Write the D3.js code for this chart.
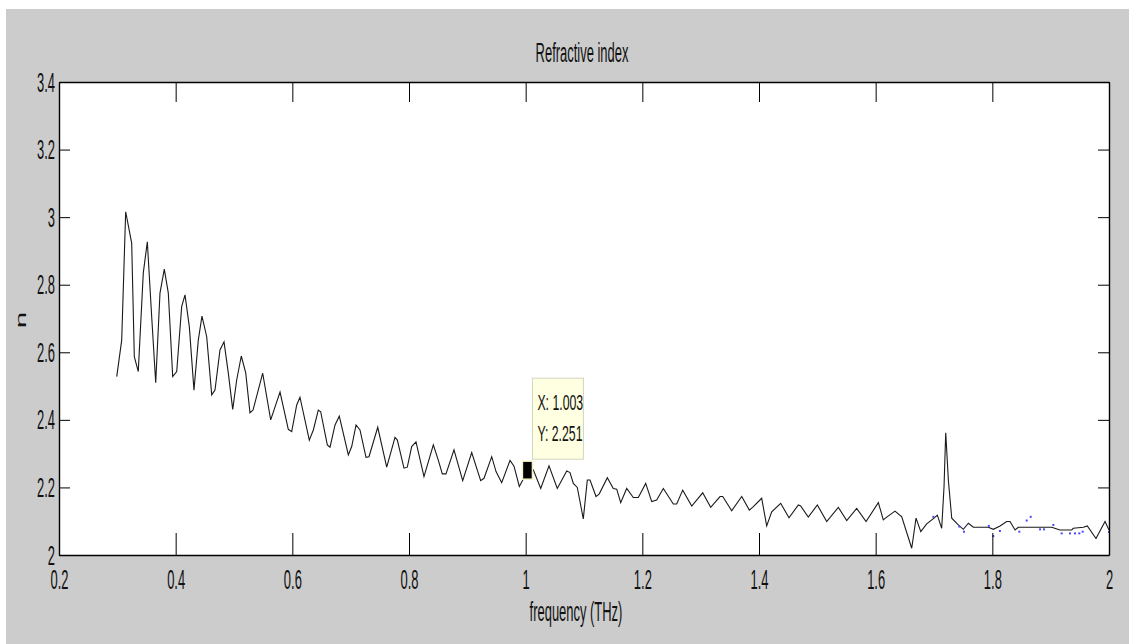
<!DOCTYPE html>
<html>
<head>
<meta charset="utf-8">
<script src="https://cdn.jsdelivr.net/npm/d3@7"></script>
<style>
  body { margin: 0; background: #fff; }
  text { font-family: "Liberation Sans", Arial, Helvetica, sans-serif; fill: #111; }
</style>
</head>
<body>
<svg id="chart" width="1129" height="644"></svg>
<script>
// Refractive index vs frequency
const freq = [0.299,0.3075,0.3143,0.3246,0.3291,0.3359,0.3445,0.3514,0.3589,0.3658,0.3731,0.3805,0.3874,0.3949,0.4018,0.4103,0.416,0.4234,0.4314,0.4388,
  0.4451,0.4532,0.4618,0.4674,0.476,0.4829,0.4902,0.4978,0.5046,0.5125,0.5201,0.5274,0.5326,0.5492,0.5629,0.5789,0.5931,0.5989,0.6075,0.6131,
  0.6291,0.636,0.6445,0.6486,0.66,0.6646,0.6732,0.6805,0.696,0.7018,0.7092,0.716,0.7263,0.7314,0.7464,0.7618,0.776,0.78,0.7914,0.7971,
  0.8046,0.812,0.8257,0.8417,0.8502,0.8571,0.8634,0.8771,0.8921,0.9075,0.9229,0.9286,0.9418,0.9492,0.9589,0.9732,0.98,0.9891,0.9949,1.003,
  1.0131,1.0258,1.04,1.0542,1.0704,1.076,1.0817,1.0885,1.0988,1.1057,1.1103,1.1206,1.1262,1.14,1.1502,1.1561,1.1629,1.1732,1.1845,1.1931,
  1.2058,1.2161,1.2246,1.236,1.2531,1.2589,1.2692,1.2847,1.3035,1.3172,1.3332,1.3378,1.3532,1.3704,1.3834,1.3903,1.4046,1.4132,1.4218,1.4372,
  1.4514,1.4674,1.4715,1.4845,1.5,1.5161,1.536,1.5504,1.5675,1.5835,1.6046,1.6131,1.6189,1.6332,1.6447,1.6618,1.6692,1.6774,1.6875,1.7,
  1.7057,1.7132,1.7172,1.7201,1.7246,1.7304,1.7417,1.7503,1.7589,1.7675,1.7931,1.8017,1.8132,1.8246,1.8303,1.8389,1.8445,1.9018,1.916,1.9361,
  1.9388,1.956,1.9628,1.9777,1.9932,2.0];
const nIndex = [2.528,2.636,3.016,2.923,2.587,2.543,2.835,2.927,2.705,2.510,2.775,2.846,2.775,2.528,2.543,2.735,2.770,2.676,2.488,2.636,
  2.707,2.646,2.474,2.488,2.607,2.631,2.539,2.431,2.518,2.589,2.539,2.421,2.429,2.538,2.400,2.482,2.372,2.365,2.444,2.467,
  2.340,2.370,2.429,2.424,2.326,2.319,2.385,2.411,2.296,2.321,2.385,2.370,2.289,2.291,2.378,2.260,2.348,2.340,2.257,2.260,
  2.321,2.335,2.232,2.326,2.281,2.240,2.240,2.311,2.220,2.303,2.220,2.227,2.291,2.247,2.214,2.280,2.263,2.203,2.221,2.251,
  2.252,2.197,2.264,2.197,2.249,2.244,2.212,2.200,2.107,2.222,2.222,2.173,2.181,2.229,2.197,2.195,2.155,2.197,2.170,2.170,
  2.212,2.158,2.163,2.197,2.151,2.151,2.192,2.145,2.184,2.141,2.173,2.173,2.131,2.173,2.133,2.143,2.168,2.086,2.128,2.153,
  2.110,2.148,2.145,2.112,2.148,2.099,2.141,2.102,2.138,2.099,2.155,2.104,2.112,2.130,2.113,2.020,2.109,2.069,2.092,2.109,
  2.118,2.079,2.202,2.362,2.222,2.109,2.089,2.076,2.094,2.082,2.082,2.076,2.086,2.099,2.099,2.074,2.082,2.082,2.074,2.074,
  2.079,2.082,2.086,2.049,2.099,2.074];

// stray blue points near the high-frequency end
const blueFreq = [1.6989,1.7434,1.7514,1.794,1.8017,1.813,1.8463,1.8589,1.8658,1.8818,1.8886,1.9046,1.9189,1.9331,1.9417,1.9491,1.9549,2.0];
const blueN = [2.113,2.084,2.069,2.086,2.056,2.071,2.069,2.102,2.113,2.076,2.076,2.089,2.064,2.064,2.064,2.064,2.069,2.068];

const xTicks = [0.2,0.4,0.6,0.8,1,1.2,1.4,1.6,1.8,2];
const yTicks = [2,2.2,2.4,2.6,2.8,3,3.2,3.4];
const tipX = 1.003, tipY = 2.251;

const svg = d3.select("#chart");
const W = 1129, H = 644;
const plot = { left: 59, right: 1109, top: 82, bottom: 555 };
// glyphs in the picture are tall and narrow
const sx = 0.81, sy = 1.75;

// figure background
svg.append("rect").attr("x", 6).attr("y", 9).attr("width", W - 6).attr("height", H - 9).attr("fill", "#cccccc");
svg.append("rect")
  .attr("x", plot.left).attr("y", plot.top)
  .attr("width", plot.right - plot.left).attr("height", plot.bottom - plot.top)
  .attr("fill", "#fff");

const x = d3.scaleLinear().domain([0.2, 2]).range([plot.left, plot.right]);
const y = d3.scaleLinear().domain([2, 3.4]).range([plot.bottom, plot.top]);

// curve
const pts = d3.zip(freq, nIndex);
svg.append("path")
  .datum(pts)
  .attr("fill", "none")
  .attr("stroke", "#1a1a1a")
  .attr("stroke-width", 1.1)
  .attr("d", d3.line().x((d) => x(d[0])).y((d) => y(d[1])));

svg.append("g")
  .selectAll("rect")
  .data(d3.zip(blueFreq, blueN))
  .join("rect")
  .attr("x", (d) => x(d[0]) - 1)
  .attr("y", (d) => y(d[1]) - 1)
  .attr("width", 2)
  .attr("height", 2)
  .attr("fill", "#4a4aff");

// axes (MATLAB style: ticks inside the box on all four sides)
function styleAxis(g) {
  g.attr("font-family", null).attr("font-size", null);
  g.selectAll("path.domain").attr("stroke", "#000").attr("stroke-width", 1.4);
  g.selectAll(".tick line").attr("stroke", "#000").attr("stroke-width", 1);
}

const gx = svg.append("g")
  .attr("transform", `translate(0,${plot.bottom})`)
  .call(d3.axisBottom(x).tickValues(xTicks).tickSize(-22).tickSizeOuter(0).tickFormat(d3.format("")))
  .call(styleAxis);
gx.selectAll(".tick text")
  .attr("y", null).attr("dy", null)
  .attr("font-size", 16)
  .attr("transform", `translate(0,34) scale(${sx},${sy})`);

const gy = svg.append("g")
  .attr("transform", `translate(${plot.left},0)`)
  .call(d3.axisLeft(y).tickValues(yTicks).tickSize(-11).tickSizeOuter(0).tickFormat(d3.format("")))
  .call(styleAxis);
gy.selectAll(".tick text")
  .attr("x", null).attr("dy", null)
  .attr("font-size", 16)
  .attr("text-anchor", "end")
  .attr("transform", `translate(-4,9) scale(${sx},${sy})`);

svg.append("g")
  .attr("transform", `translate(0,${plot.top})`)
  .call(d3.axisTop(x).tickValues(xTicks).tickSize(-20).tickSizeOuter(0).tickFormat(""))
  .call(styleAxis);

svg.append("g")
  .attr("transform", `translate(${plot.right},0)`)
  .call(d3.axisRight(y).tickValues(yTicks).tickSize(-11).tickSizeOuter(0).tickFormat(""))
  .call(styleAxis);

// labels
function label(px, py, txt, size, rotate) {
  const tr = rotate
    ? `translate(${px},${py}) rotate(-90) scale(${sy},${sx})`
    : `translate(${px},${py}) scale(${sx},${sy})`;
  svg.append("text")
    .attr("transform", tr)
    .attr("text-anchor", "middle")
    .attr("font-size", size)
    .text(txt);
}
label(582, 62, "Refractive index", 16);
label(576, 621, "frequency (THz)", 16);
label(26, 320, "n", 17, true);

// data tip
const tx = x(tipX), ty = y(tipY);
svg.append("rect")
  .attr("x", tx - 5).attr("y", ty - 9)
  .attr("width", 10).attr("height", 18)
  .attr("fill", "#000")
  .attr("stroke", "#f3f0c0").attr("stroke-width", 1.5);
const tip = svg.append("g").attr("transform", `translate(${tx + 5},${ty - 92})`);
tip.append("rect")
  .attr("width", 51).attr("height", 81)
  .attr("fill", "#ffffe1")
  .attr("stroke", "#d4d4c0");
[`X: ${tipX}`, `Y: ${tipY}`].forEach((s, i) => {
  tip.append("text")
    .attr("transform", `translate(5,${32 + i * 31}) scale(0.82,1.42)`)
    .attr("font-size", 15)
    .attr("fill", "#333")
    .text(s);
});
</script>
</body>
</html>
